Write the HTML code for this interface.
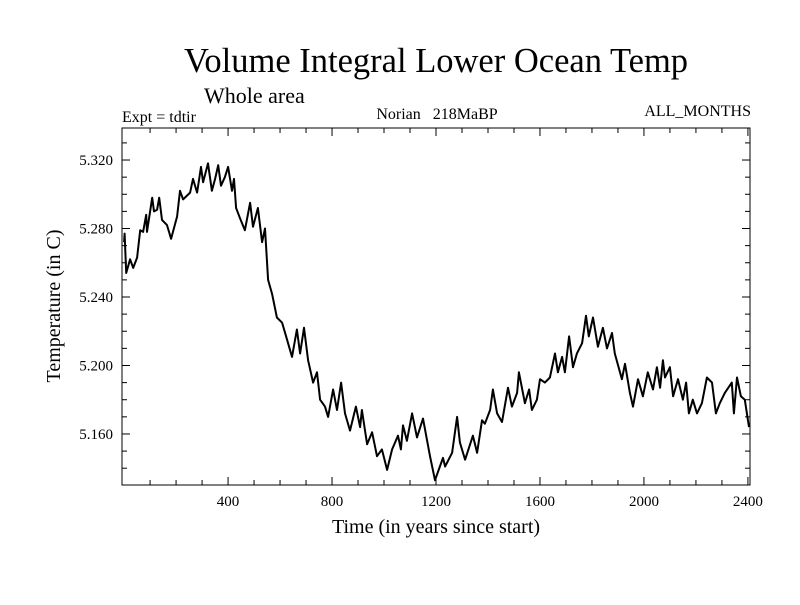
<!DOCTYPE html>
<html><head><meta charset="utf-8"><style>
body{margin:0;background:#fff;}
svg text{font-family:"Liberation Serif",serif;fill:#000;}
</style></head><body>
<svg id="chart" width="800" height="600" xmlns="http://www.w3.org/2000/svg">
<text x="436" y="72" font-size="34.5" text-anchor="middle">Volume Integral Lower Ocean Temp</text>
<text x="204" y="103" font-size="22">Whole area</text>
<text x="122" y="122" font-size="16">Expt = tdtir</text>
<text x="437" y="119" font-size="16" text-anchor="middle" xml:space="preserve">Norian   218MaBP</text>
<text x="751" y="116" font-size="16" text-anchor="end">ALL_MONTHS</text>
<text x="436" y="533" font-size="20" text-anchor="middle">Time (in years since start)</text>
<text transform="translate(60,306) rotate(-90)" font-size="20" text-anchor="middle">Temperature (in C)</text>
<g id="axes"></g>
<path id="series" fill="none" stroke="#000" stroke-width="2" stroke-linejoin="round"/>
<rect x="122" y="128" width="628" height="357" fill="none" stroke="#000" stroke-width="1"/>
</svg>
<script>
const years=[0,2,8,23,35,50,62,73,85,88,108,115,127,135,146,165,181,204,215,227,254,265,281,296,304,323,338,350,362,373,388,400,415,423,431,446,465,485,496,515,531,542,554,569,588,608,627,646,665,677,692,708,727,742,754,773,785,804,819,835,850,869,892,908,915,935,954,973,992,1012,1031,1054,1065,1073,1088,1108,1127,1150,1177,1196,1215,1227,1235,1262,1281,1292,1312,1327,1342,1358,1377,1388,1408,1419,1435,1454,1477,1492,1512,1519,1542,1558,1569,1588,1600,1619,1638,1658,1669,1685,1696,1712,1727,1742,1762,1777,1788,1804,1823,1842,1858,1877,1888,1915,1927,1946,1958,1977,1996,2015,2035,2050,2062,2073,2081,2100,2112,2131,2150,2162,2173,2188,2204,2223,2242,2262,2277,2292,2311,2338,2346,2358,2373,2388,2404];
const temps=[5.272,5.277,5.254,5.262,5.257,5.263,5.279,5.278,5.288,5.278,5.298,5.290,5.291,5.298,5.285,5.282,5.274,5.287,5.302,5.297,5.301,5.309,5.301,5.316,5.307,5.318,5.302,5.309,5.317,5.305,5.310,5.316,5.302,5.309,5.292,5.286,5.279,5.295,5.281,5.292,5.272,5.280,5.250,5.242,5.228,5.225,5.215,5.205,5.221,5.207,5.222,5.203,5.190,5.196,5.180,5.176,5.170,5.186,5.174,5.190,5.172,5.162,5.176,5.164,5.174,5.154,5.161,5.147,5.151,5.139,5.151,5.159,5.151,5.165,5.156,5.172,5.158,5.169,5.147,5.133,5.141,5.146,5.141,5.149,5.170,5.155,5.145,5.152,5.159,5.149,5.168,5.166,5.174,5.186,5.172,5.167,5.187,5.176,5.184,5.196,5.178,5.186,5.174,5.180,5.192,5.190,5.193,5.207,5.196,5.205,5.196,5.217,5.199,5.207,5.213,5.229,5.217,5.228,5.211,5.222,5.210,5.219,5.207,5.192,5.201,5.184,5.176,5.192,5.182,5.196,5.186,5.199,5.187,5.203,5.193,5.199,5.182,5.192,5.180,5.190,5.172,5.180,5.172,5.178,5.193,5.190,5.172,5.178,5.184,5.190,5.172,5.193,5.182,5.180,5.164];
const xTickLabels=["400","800","1200","1600","2000","2400"];
const yTickLabels=["5.160","5.200","5.240","5.280","5.320"];
const X0=122,X1=750,Y0=128,Y1=485;
const xMin=-8,xMax=2408,yMin=5.1302,yMax=5.3387;
function sx(v){return X0+(v-xMin)/(xMax-xMin)*(X1-X0);}
function sy(v){return Y1-(v-yMin)/(yMax-yMin)*(Y1-Y0);}
const NS="http://www.w3.org/2000/svg";
const axes=document.getElementById('axes');
function line(x1,y1,x2,y2){const l=document.createElementNS(NS,'line');l.setAttribute('x1',x1);l.setAttribute('y1',y1);l.setAttribute('x2',x2);l.setAttribute('y2',y2);l.setAttribute('stroke','#000');l.setAttribute('stroke-width','1');


axes.appendChild(l);}
function txt(x,y,s,anchor,name){const t=document.createElementNS(NS,'text');t.setAttribute('x',x);t.setAttribute('y',y);t.setAttribute('font-size','15');t.setAttribute('text-anchor',anchor);t.textContent=s;


axes.appendChild(t);}
for(let v=100;v<=2400;v+=100){const x=sx(v);const L=(v%400===0)?8:5;line(x,Y1,x,Y1-L);line(x,Y0,x,Y0+L);}
xTickLabels.forEach(s=>{txt(sx(+s),506,s,'middle','x-tick-label');});
for(let i=14;i<=33;i++){const v=i/100+5;if(v<yMin||v>yMax)continue;const y=sy(v);const L=(i%4===0)?8:5;line(X0,y,X0+L,y);line(X1,y,X1-L,y);}
yTickLabels.forEach(s=>{txt(113,sy(+s)+5,s,'end','y-tick-label');});
let d='';years.forEach((yr,i)=>{d+=(i?'L':'M')+sx(yr).toFixed(1)+','+sy(temps[i]).toFixed(1);});
document.getElementById('series').setAttribute('d',d);
</script>
</body></html>
